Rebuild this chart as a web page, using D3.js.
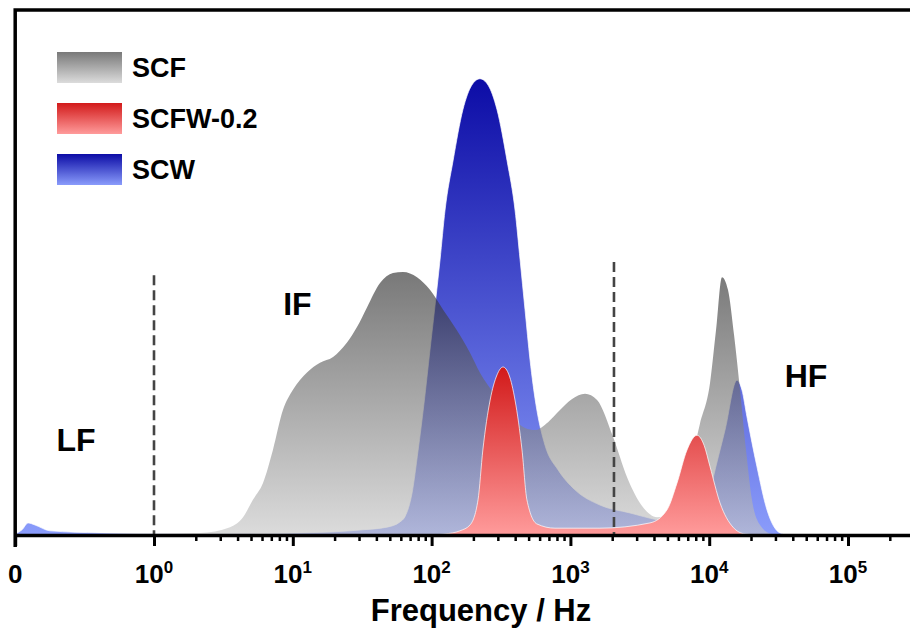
<!DOCTYPE html>
<html>
<head>
<meta charset="utf-8">
<script src="https://cdn.jsdelivr.net/npm/d3@7"></script>
<style>
body { margin: 0; background: #fff; }
text { font-family: "Liberation Sans", Arial, sans-serif; font-weight: bold; fill: #000; }
</style>
</head>
<body>
<div id="chart_area"></div>
<script>

//data (frequency in Hz, intensity in arbitrary units)

var scfFreq = [0.1, 0.41, 2.14, 3.53, 4.38, 5.16, 6.10, 7.19, 8.49, 10.0, 12.6, 15.7, 19.5, 24.5, 29.0, 34.3, 42.5, 52.7, 62.2, 78.5,
	97.3, 121, 152, 189, 223, 286, 367, 471, 556, 690, 841, 1028, 1274, 1556, 2028, 2559, 3334, 4207, 5224, 6699,
	8590, 10140, 11190, 12360, 13650, 15100, 16670, 18410, 20320, 23230, 28310, 38190];
var scfValue = [0, 0.2, 0.4, 1.5, 3.4, 6.7, 9.9, 16.2, 23.8, 27.6, 30.9, 32.8, 33.9, 36.6, 39.6, 43.4, 48.0, 49.9, 50.1, 49.1,
	46.7, 42.9, 39.0, 34.7, 30.9, 26.7, 22.9, 20.4, 20.0, 21.5, 23.8, 25.9, 26.9, 25.7, 18.7, 11.0, 5.3, 3.4, 4.4, 9.5,
	21.3, 29.0, 39.0, 49.1, 46.7, 38.1, 27.6, 16.2, 6.7, 1.9, 0.2, 0];

var scfwFreq = [97.3, 125, 160, 189, 216, 234, 264, 296, 327, 361, 399, 448, 486, 574, 774, 1633, 3741, 4966, 5861, 6918,
	8166, 9183, 10140, 11970, 14830, 18110, 23230];
var scfwValue = [0, 0.2, 0.8, 1.9, 6.7, 16.2, 25.7, 30.5, 32.0, 30.5, 25.7, 16.2, 6.7, 2.1, 1.3, 1.3, 2.3, 4.8, 9.9, 16.2,
	19.0, 17.1, 13.0, 6.1, 1.5, 0.2, 0];

var scwFreq = [0.1, 0.112, 0.124, 0.139, 0.178, 0.41, 2.14, 11.3, 32.1, 47.8, 59.2, 64.3, 72.3, 79.8, 88.1, 97.3, 109, 115, 125, 143,
	168, 195, 223, 255, 296, 349, 399, 434, 471, 512, 565, 656, 815, 1079, 1633, 2685, 4207, 7278, 9333, 10470,
	13000, 15850, 17220, 18710, 22080, 26060, 32360, 38190];
var scwValue = [0.2, 1.0, 2.3, 1.9, 0.8, 0.4, 0.2, 0.4, 1.0, 1.5, 2.5, 3.5, 8, 16, 25, 35.2, 46.7, 52.4, 61.9, 71.4,
	81.0, 85.7, 86.9, 85.7, 81.0, 71.4, 61.9, 52.4, 42.9, 33.3, 24.8, 17.1, 12.4, 8.6, 5.7, 4.2, 2.9, 2.1, 3.8, 9.9,
	20.0, 29.5, 27.6, 22.5, 13.0, 4.8, 0.4, 0];

var legendNames = ["SCF", "SCFW-0.2", "SCW"];

var majorTicks = [0.1, 1, 10, 100, 1000, 10000, 100000];
var tickBase = ["0", "10", "10", "10", "10", "10", "10"];
var tickExp = ["", "0", "1", "2", "3", "4", "5"];

//region boundaries (dashed) and region names
var boundaryFreq = [1, 2060];
var boundaryTop = [49.5, 52];
var regionNames = ["LF", "IF", "HF"];
var regionFreq = [0.274, 10.8, 49800];
var regionLevel = [16, 41.9, 28.2];

//get the area

var sChartArea = d3.select("#chart_area");
var sFrame = sChartArea.append("svg");
var sCanvas = sFrame.append("g");

var sFrameWidth = 910;
var sFrameHeight = 635;
sFrame.attr("width", sFrameWidth).attr("height", sFrameHeight);

//scales: one decade is ~139px, plot runs off the right edge
var sX = d3.scaleLog().domain([0.1, Math.pow(10, 5.6)]).range([15.2, 931.3]);
var sY = d3.scaleLinear().domain([0, 100]).range([535, 10]);

//gradients
var sDefs = sFrame.append("defs");
function addGradient(pId, pTop, pBottom) {
	var sGrad = sDefs.append("linearGradient").attr("id", pId)
		.attr("x1", 0).attr("y1", 0).attr("x2", 0).attr("y2", 1);
	sGrad.append("stop").attr("offset", "0%").attr("stop-color", pTop);
	sGrad.append("stop").attr("offset", "100%").attr("stop-color", pBottom);
}
addGradient("gGray", "#262626", "#c6c6c6");
addGradient("gRed", "#d21a1a", "#ff9b9b");
addGradient("gBlue", "#0c0ca6", "#8a9cfb");

var sStyles = [
	{ fill: "url(#gGray)", opacity: 0.62, stroke: "none" },
	{ fill: "url(#gRed)", opacity: 1, stroke: "#fff" },
	{ fill: "url(#gBlue)", opacity: 1, stroke: "#fff" }
];

//area generator
var sArea = d3.area()
	.x(function(d){ return sX(d.f); })
	.y0(sY(0))
	.y1(function(d){ return sY(d.v); })
	.curve(d3.curveMonotoneX);

function pairs(pF, pV) {
	return pF.map(function(f, i){ return { f: f, v: pV[i] }; });
}

function drawArea(pData, pStyle) {
	sCanvas.append("path")
		.datum(pData)
		.attr("d", sArea)
		.attr("fill", pStyle.fill)
		.attr("fill-opacity", pStyle.opacity)
		.attr("stroke", pStyle.stroke)
		.attr("stroke-opacity", 0.7)
		.attr("stroke-width", 1);
}

//blue first, gray see-through on top, red last
drawArea(pairs(scwFreq, scwValue), sStyles[2]);
drawArea(pairs(scfFreq, scfValue), sStyles[0]);
drawArea(pairs(scfwFreq, scfwValue), sStyles[1]);

//dashed boundaries
boundaryFreq.forEach(function(f, i){
	sCanvas.append("line")
		.attr("x1", sX(f)).attr("x2", sX(f))
		.attr("y1", sY(boundaryTop[i])).attr("y2", sY(0))
		.attr("stroke", "#444")
		.attr("stroke-width", 2.6)
		.attr("stroke-dasharray", "10,5");
});

//region names
regionNames.forEach(function(n, i){
	sCanvas.append("text")
		.attr("x", sX(regionFreq[i]))
		.attr("y", sY(regionLevel[i]))
		.attr("text-anchor", "middle")
		.style("font-size", "32px")
		.text(n);
});

//axis: major ticks
var sMajorAxis = d3.axisBottom(sX).tickValues(majorTicks).tickSize(11).tickSizeOuter(0).tickFormat("");
var sAxisG = sCanvas.append("g").attr("transform", "translate(0," + sY(0) + ")").call(sMajorAxis);
sAxisG.select(".domain").attr("stroke", "#000").attr("stroke-width", 3.5);
sAxisG.selectAll(".tick line").attr("stroke", "#000").attr("stroke-width", 3);

//axis: minor ticks
var sMinor = [];
for (var k = 0; k <= 5; k++) {
	for (var m = 2; m <= 9; m++) {
		var t = m * Math.pow(10, k);
		if (t <= sX.domain()[1]) sMinor.push(t);
	}
}
var sMinorAxis = d3.axisBottom(sX).tickValues(sMinor).tickSize(6).tickSizeOuter(0).tickFormat("");
var sMinorG = sCanvas.append("g").attr("transform", "translate(0," + sY(0) + ")").call(sMinorAxis);
sMinorG.select(".domain").remove();
sMinorG.selectAll(".tick line").attr("stroke", "#000").attr("stroke-width", 2.5);

//tick labels with superscripts
majorTicks.forEach(function(t, i){
	var sLabel = sCanvas.append("text")
		.attr("x", sX(t))
		.attr("y", 583)
		.attr("text-anchor", "middle")
		.style("font-size", "26px");
	sLabel.append("tspan").text(tickBase[i]);
	if (tickExp[i] != "") {
		sLabel.append("tspan").attr("dy", -10).style("font-size", "17px").text(tickExp[i]);
	}
});

//axis title
sCanvas.append("text")
	.attr("x", 481)
	.attr("y", 621)
	.attr("text-anchor", "middle")
	.style("font-size", "31px")
	.text("Frequency / Hz");

//frame: left and top border
sCanvas.append("path")
	.attr("d", "M" + sX(0.1) + "," + (sY(0) + 12) + "V" + sY(100) + "H" + sX.range()[1])
	.attr("fill", "none")
	.attr("stroke", "#000")
	.attr("stroke-width", 3.5);

//legend
legendNames.forEach(function(n, i){
	var sY0 = 52 + i * 51;
	sCanvas.append("rect")
		.attr("x", 57).attr("y", sY0)
		.attr("width", 65).attr("height", 31)
		.attr("fill", sStyles[i].fill)
		.attr("fill-opacity", sStyles[i].opacity);
	sCanvas.append("text")
		.attr("x", 132)
		.attr("y", sY0 + 25)
		.style("font-size", "27px")
		.text(n);
});

</script>
</body>
</html>
